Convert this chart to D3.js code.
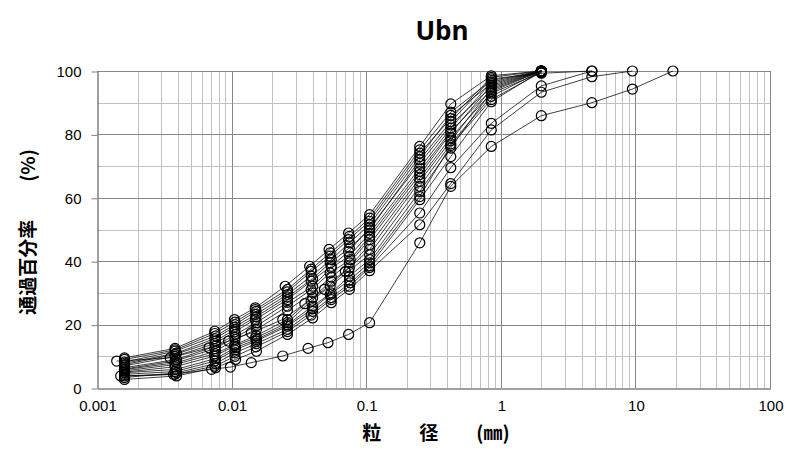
<!DOCTYPE html>
<html>
<head>
<meta charset="utf-8">
<script src="https://cdn.jsdelivr.net/npm/d3@7"></script>
<style>
  body { margin: 0; background: #fff; }
  svg { display: block; }
</style>
</head>
<body>
<div id="chart"></div>
<script>
// Sieve sizes (mm) and passing percentages per sample (null = not tested)
const sieveMm = [19, 9.5, 4.75, 2, 0.85, 0.425, 0.25, 0.106];
const sievePass = [
    [null, null, null, 100, 98.5, 89.6, 76.2, 54.7],
    [null, null, null, 100, 97.0, 87.0, 75.1, 53.6],
    [null, null, null, 100, 98.0, 85.0, 74.1, 52.6],
    [null, null, null, 100, 96.0, 86.0, 73.0, 51.5],
    [null, null, 100, 99.3, 97.5, 84.0, 72.0, 49.9],
    [null, null, null, 100, 95.0, 83.0, 70.9, 50.5],
    [null, null, null, 100, 96.5, 82.0, 69.4, 48.8],
    [null, null, null, 100, 94.0, 81.0, 68.3, 47.8],
    [null, null, null, 100, 95.5, 80.4, 67.3, 46.8],
    [null, null, null, 99.5, 93.0, 79.0, 66.2, 45.2],
    [null, null, null, 100, 94.5, 78.0, 65.2, 43.7],
    [null, null, null, 100, 92.0, 77.0, 63.6, 42.1],
    [null, null, null, 100, 93.5, 75.7, 62.0, 40.5],
    [null, null, null, 99.6, 91.0, 76.5, 60.4, 39.5],
    [null, null, null, 100, 90.3, 73.0, 59.4, 38.5],
    [null, null, 100, 95.3, 83.5, 69.5, 55.2, 38.0],
    [null, 100, 98.2, 93.3, 81.4, 64.5, 51.5, 37.0],
    [100, 94.3, 90.0, 85.9, 76.2, 63.6, 45.8, 20.6]
];

// Hydrometer diameters (mm) and passing percentages per sample
const hydroMm = [
    [0.074, 0.053, 0.038, 0.025, 0.015, 0.0105, 0.0075, 0.0038, 0.0016],
    [0.075, 0.054, 0.039, 0.026, 0.015, 0.0106, 0.0075, 0.0038, 0.0016],
    [0.074, 0.054, 0.039, 0.026, 0.0152, 0.0106, 0.0076, 0.0038, 0.0016],
    [0.075, 0.055, 0.039, 0.026, 0.0151, 0.0105, 0.0075, 0.0039, 0.0016],
    [0.075, 0.054, 0.040, 0.026, 0.0152, 0.0106, 0.0076, 0.0038, 0.0016],
    [0.074, 0.055, 0.039, 0.026, 0.0150, 0.0105, 0.0075, 0.0038, 0.0016],
    [0.075, 0.055, 0.040, 0.026, 0.0153, 0.0107, 0.0076, 0.0039, 0.0016],
    [0.076, 0.054, 0.039, 0.026, 0.0152, 0.0106, 0.0075, 0.0038, 0.0016],
    [0.075, 0.055, 0.040, 0.026, 0.0153, 0.0106, 0.0076, 0.0039, 0.0016],
    [0.070, 0.049, 0.035, 0.024, 0.014, 0.0095, 0.0068, 0.0035, 0.0014],
    [0.075, 0.055, 0.040, 0.026, 0.0152, 0.0106, 0.0075, 0.0038, 0.0016],
    [0.074, 0.054, 0.039, 0.026, 0.0151, 0.0105, 0.0075, 0.0038, 0.0016],
    [0.075, 0.055, 0.040, 0.026, 0.0153, 0.0107, 0.0076, 0.0039, 0.0016],
    [0.075, 0.054, 0.040, 0.026, 0.0152, 0.0106, 0.0075, 0.0038, 0.0016],
    [0.076, 0.055, 0.040, 0.026, 0.0153, 0.0106, 0.0076, 0.0039, 0.0016],
    [0.075, 0.055, 0.039, 0.026, 0.0152, 0.0106, 0.0075, 0.0038, 0.0016],
    [0.075, 0.055, 0.040, 0.026, 0.0153, 0.0107, 0.0076, 0.0039, 0.0016],
    [0.074, 0.052, 0.037, 0.024, 0.014, 0.0098, 0.0071, 0.0037, 0.0015]
];
const hydroPass = [
    [48.9, 43.7, 38.4, 32.1, 25.3, 21.6, 17.9, 12.5, 9.5],
    [47.8, 42.6, 37.5, 31.1, 24.7, 20.8, 17.2, 12.0, 9.0],
    [46.8, 41.6, 36.8, 30.3, 24.2, 20.0, 16.4, 11.6, 8.2],
    [45.8, 40.5, 35.3, 29.5, 23.2, 19.2, 15.6, 11.0, 7.8],
    [44.2, 39.5, 34.5, 28.7, 22.5, 18.5, 14.8, 10.6, 7.4],
    [43.0, 38.4, 33.7, 27.9, 21.6, 17.7, 14.0, 10.0, 7.0],
    [41.6, 37.9, 32.1, 27.0, 20.6, 16.9, 13.2, 9.0, 6.4],
    [40.5, 36.3, 31.0, 25.8, 19.5, 16.0, 12.4, 8.5, 6.0],
    [39.5, 35.0, 30.0, 24.5, 18.5, 15.3, 11.6, 8.0, 5.8],
    [36.8, 31.1, 26.6, 21.6, 17.4, 14.8, 12.7, 9.5, 8.5],
    [37.9, 33.7, 28.5, 21.6, 16.5, 13.7, 10.8, 7.4, 5.4],
    [36.8, 32.1, 27.4, 20.6, 15.8, 13.2, 10.1, 6.7, 5.0],
    [35.3, 30.0, 25.8, 20.0, 15.3, 12.7, 9.3, 5.9, 4.8],
    [34.0, 29.5, 25.0, 19.5, 14.8, 12.0, 8.5, 5.2, 4.3],
    [33.2, 28.5, 24.2, 18.5, 14.0, 11.1, 7.7, 4.8, 3.3],
    [32.1, 27.9, 23.0, 17.8, 13.0, 10.0, 6.9, 4.3, 3.8],
    [31.1, 26.9, 22.1, 16.9, 11.6, 9.0, 6.4, 3.8, 2.7],
    [16.9, 14.3, 12.5, 10.1, 8.0, 6.6, 5.9, 4.3, 3.8]
];

const xTickValues = [0.001, 0.01, 0.1, 1, 10, 100];
const xTickLabels = ["0.001", "0.01", "0.1", "1", "10", "100"];
const yTickValues = [0, 20, 40, 60, 80, 100];

function drawChart() {
    const width = 788, height = 454;
    const plot = { left: 97, right: 770, top: 71, bottom: 388 };

    let svg = d3.select("#chart")
        .append("svg")
        .attr("width", width)
        .attr("height", height);

    // Scales
    let x = d3.scaleLog()
        .domain([0.001, 100])
        .range([plot.left, plot.right]);

    let y = d3.scaleLinear()
        .domain([0, 100])
        .range([plot.bottom, plot.top]);

    // Vertical grid (1..9 in every decade)
    let vTicks = x.ticks();
    let isMajor = v => Math.abs(Math.log10(v) - Math.round(Math.log10(v))) < 1e-9;

    svg.append("g")
        .selectAll("line")
        .data(vTicks.filter(v => !isMajor(v)))
        .enter().append("line")
        .attr("x1", d => Math.round(x(d)) + 0.5)
        .attr("x2", d => Math.round(x(d)) + 0.5)
        .attr("y1", plot.top)
        .attr("y2", plot.bottom)
        .attr("stroke", "#c0c0c0")
        .attr("stroke-width", 1);

    // Horizontal minor grid (10, 30, 50 ...)
    svg.append("g")
        .selectAll("line")
        .data(d3.range(10, 100, 20))
        .enter().append("line")
        .attr("x1", plot.left)
        .attr("x2", plot.right)
        .attr("y1", d => Math.round(y(d)) + 0.5)
        .attr("y2", d => Math.round(y(d)) + 0.5)
        .attr("stroke", "#c0c0c0")
        .attr("stroke-width", 1);

    // Major grid
    svg.append("g")
        .selectAll("line")
        .data(vTicks.filter(isMajor).filter(v => v > 0.001))
        .enter().append("line")
        .attr("x1", d => Math.round(x(d)) + 0.5)
        .attr("x2", d => Math.round(x(d)) + 0.5)
        .attr("y1", plot.top)
        .attr("y2", plot.bottom)
        .attr("stroke", "#878787")
        .attr("stroke-width", 1);

    svg.append("g")
        .selectAll("line")
        .data(yTickValues.filter(v => v > 0))
        .enter().append("line")
        .attr("x1", plot.left)
        .attr("x2", plot.right)
        .attr("y1", d => Math.round(y(d)) + 0.5)
        .attr("y2", d => Math.round(y(d)) + 0.5)
        .attr("stroke", "#878787")
        .attr("stroke-width", 1);

    // Y axis
    let yAxis = svg.append("g")
        .attr("transform", `translate(${plot.left + 0.5}, 0.5)`)
        .call(d3.axisLeft(y).tickValues(yTickValues).tickSize(6).tickSizeOuter(0));
    yAxis.select(".domain").attr("stroke", "#808080").attr("stroke-width", 1.5);
    yAxis.selectAll(".tick line").attr("stroke", "#808080");
    yAxis.selectAll("text")
        .attr("x", -16)
        .attr("fill", "#000")
        .style("font-family", "'Liberation Sans', Arial, sans-serif")
        .style("font-size", "15px");

    // X axis
    let xAxis = svg.append("g")
        .attr("transform", `translate(0.5, ${plot.bottom + 0.5})`)
        .call(d3.axisBottom(x).tickValues(xTickValues)
            .tickFormat((d, i) => xTickLabels[i]).tickSize(0).tickSizeOuter(0));
    xAxis.select(".domain").attr("stroke", "#808080").attr("stroke-width", 1.5);
    xAxis.selectAll("text")
        .attr("y", 12)
        .attr("fill", "#000")
        .style("font-family", "'Liberation Sans', Arial, sans-serif")
        .style("font-size", "15px");

    // Sample curves
    let line = d3.line()
        .x(d => x(d[0]))
        .y(d => y(d[1]));

    let samples = sievePass.map((row, i) => {
        let pts = [];
        row.forEach((p, j) => { if (p !== null) pts.push([sieveMm[j], p]); });
        hydroMm[i].forEach((dm, j) => pts.push([dm, hydroPass[i][j]]));
        return pts;
    });

    svg.append("g")
        .selectAll("path")
        .data(samples)
        .enter().append("path")
        .attr("fill", "none")
        .attr("stroke", "#000")
        .attr("stroke-width", 0.75)
        .attr("d", line);

    svg.append("g")
        .selectAll("circle")
        .data(samples.flat())
        .enter().append("circle")
        .attr("cx", d => x(d[0]))
        .attr("cy", d => y(d[1]))
        .attr("r", 5)
        .attr("fill", "none")
        .attr("stroke", "#000")
        .attr("stroke-width", 1.2);

    // Title
    svg.append("text")
        .attr("x", 442)
        .attr("y", 40)
        .attr("text-anchor", "middle")
        .style("font-family", "'Open Sans', 'Liberation Sans', sans-serif")
        .style("font-weight", "bold")
        .style("font-size", "26px")
        .text("Ubn");

    // Axis titles
    svg.append("text")
        .attr("x", 436)
        .attr("y", 440)
        .attr("text-anchor", "middle")
        .style("font-family", "'Noto Sans CJK JP', sans-serif")
        .style("font-weight", "bold")
        .style("font-size", "19px")
        .text("粒　　径　　(㎜)");

    svg.append("text")
        .attr("transform", "translate(35, 232) rotate(-90)")
        .attr("text-anchor", "middle")
        .style("font-family", "'Noto Sans CJK JP', sans-serif")
        .style("font-weight", "bold")
        .style("font-size", "19px")
        .text("通過百分率　　(%)");
}

drawChart();
</script>
</body>
</html>
